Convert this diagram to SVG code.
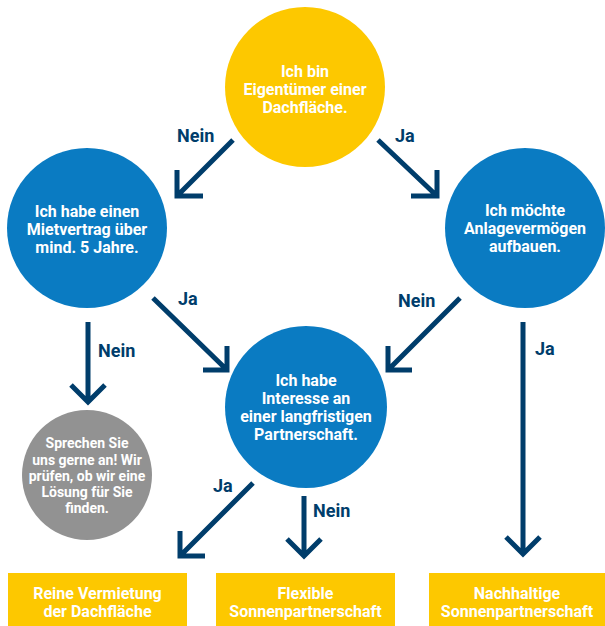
<svg xmlns="http://www.w3.org/2000/svg" width="605" height="626" viewBox="0 0 605 626">
<style>
.y{fill:#FDC800}
.b{fill:#0A7BC2}
.g{fill:#929292}
.t{font-family:Roboto,"Liberation Sans",sans-serif;font-weight:bold;fill:#fff;text-anchor:middle;font-size:16px}
.ts{font-size:14px}
.l{font-family:Roboto,"Liberation Sans",sans-serif;font-weight:bold;fill:#003D6B;font-size:18px}
.a{fill:none;stroke:#003D6B;stroke-width:5;stroke-linejoin:miter;stroke-linecap:butt}
</style>
<rect width="605" height="626" fill="#fff"/>
<g id="connectors">
<path class="a" d="M233,140 L177,196 M177,170 L177,196 L203,196"/>
<path class="a" d="M378,140 L437,196 M411,196 L437,196 L437,170"/>
<path class="a" d="M153,298 L227,370 M203,370 L227,370 L227,346"/>
<path class="a" d="M460,298 L388,370 M388,346 L388,370 L412,370"/>
<path class="a" d="M253,483 L180,556 M180,531 L180,556 L205,556"/>
<path class="a" d="M88,322 L88,402 M71,385 L88,402 L105,385"/>
<path class="a" d="M304,496 L304,556 M287,539 L304,556 L321,539"/>
<path class="a" d="M523,322 L523,554 M506,537 L523,554 L540,537"/>
<text class="l" x="177" y="142">Nein</text>
<text class="l" x="395" y="142">Ja</text>
<text class="l" x="178" y="305">Ja</text>
<text class="l" x="98" y="357">Nein</text>
<text class="l" x="398" y="307">Nein</text>
<text class="l" x="535" y="355">Ja</text>
<text class="l" x="213" y="492">Ja</text>
<text class="l" x="313" y="517">Nein</text>
</g>
<g id="eigentuemer">
<circle class="y" cx="305" cy="87" r="80"/>
<text class="t" x="305" y="77">Ich bin</text>
<text class="t" x="305" y="95">Eigentümer einer</text>
<text class="t" x="305" y="113">Dachfläche.</text>
</g>
<g id="mietvertrag">
<circle class="b" cx="87" cy="228" r="80"/>
<text class="t" x="87" y="217">Ich habe einen</text>
<text class="t" x="87" y="235">Mietvertrag über</text>
<text class="t" x="87" y="253">mind. 5 Jahre.</text>
</g>
<g id="anlagevermoegen">
<circle class="b" cx="525" cy="228" r="80"/>
<text class="t" x="525" y="216">Ich möchte</text>
<text class="t" x="525" y="234">Anlagevermögen</text>
<text class="t" x="525" y="252">aufbauen.</text>
</g>
<g id="partnerschaft">
<circle class="b" cx="306" cy="407" r="81"/>
<text class="t" x="306" y="386">Ich habe</text>
<text class="t" x="306" y="404">Interesse an</text>
<text class="t" x="306" y="422">einer langfristigen</text>
<text class="t" x="306" y="440">Partnerschaft.</text>
</g>
<g id="sprechen">
<circle class="g" cx="87" cy="475" r="65"/>
<text class="t ts" x="87" y="448">Sprechen Sie</text>
<text class="t ts" x="87" y="465">uns gerne an! Wir</text>
<text class="t ts" x="87" y="481">prüfen, ob wir eine</text>
<text class="t ts" x="87" y="497">Lösung für Sie</text>
<text class="t ts" x="87" y="513">finden.</text>
</g>
<g id="vermietung">
<rect class="y" x="8" y="573" width="179" height="53"/>
<text class="t" x="97.5" y="599">Reine Vermietung</text>
<text class="t" x="97.5" y="617">der Dachfläche</text>
</g>
<g id="flexible">
<rect class="y" x="216" y="573" width="179" height="53"/>
<text class="t" x="305.5" y="599">Flexible</text>
<text class="t" x="305.5" y="617">Sonnenpartnerschaft</text>
</g>
<g id="nachhaltige">
<rect class="y" x="429" y="573" width="176" height="53"/>
<text class="t" x="517" y="599">Nachhaltige</text>
<text class="t" x="517" y="617">Sonnenpartnerschaft</text>
</g>
</svg>
